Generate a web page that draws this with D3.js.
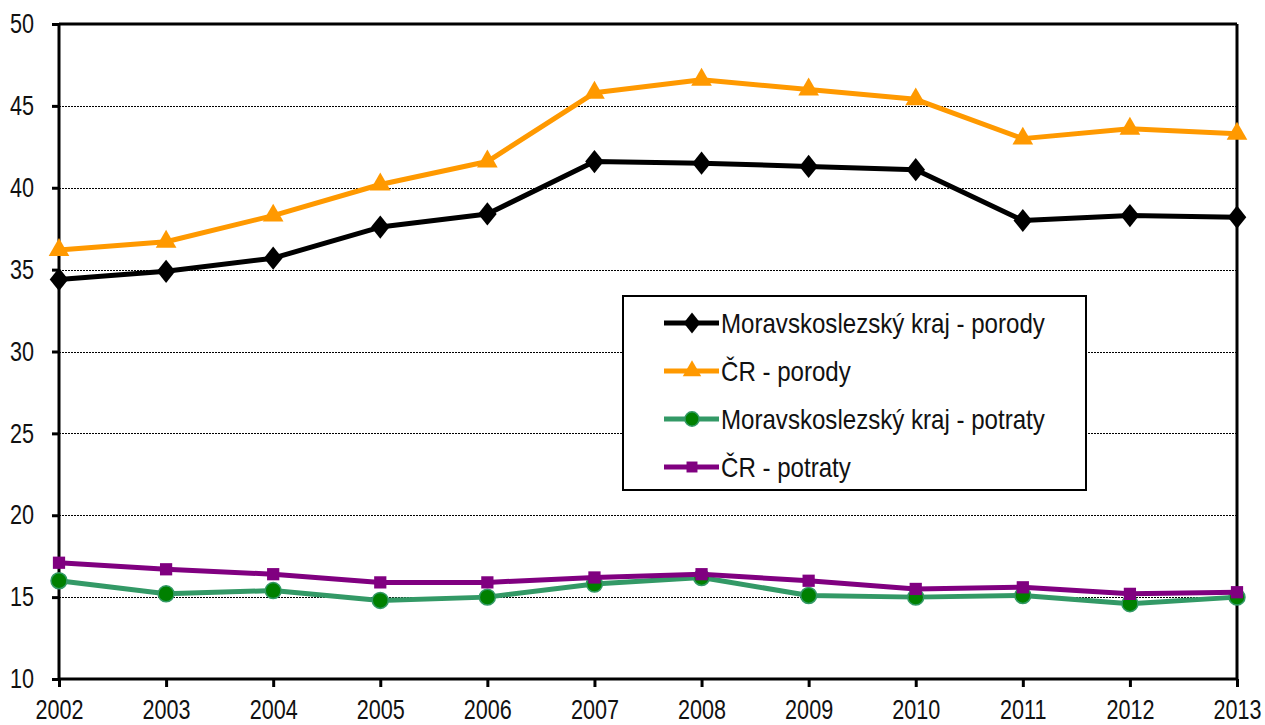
<!DOCTYPE html>
<html>
<head>
<meta charset="utf-8">
<script src="https://cdn.jsdelivr.net/npm/d3@7"></script>
<style>
  body { margin: 0; background: #fff; }
  svg text { font-family: "Liberation Sans", Arial, sans-serif; fill: #111; }
</style>
</head>
<body>
<svg id="chart" width="1265" height="725"></svg>
<script>
'use strict';

/* chart data */
const years = [2002, 2003, 2004, 2005, 2006, 2007, 2008, 2009, 2010, 2011, 2012, 2013];
const mskPorody = [34.4, 34.9, 35.7, 37.6, 38.4, 41.6, 41.5, 41.3, 41.1, 38.0, 38.3, 38.2];
const crPorody = [36.2, 36.7, 38.3, 40.2, 41.6, 45.8, 46.6, 46.0, 45.4, 43.0, 43.6, 43.3];
const mskPotraty = [16.0, 15.2, 15.4, 14.8, 15.0, 15.8, 16.2, 15.1, 15.0, 15.1, 14.6, 15.0];
const crPotraty = [17.1, 16.7, 16.4, 15.9, 15.9, 16.2, 16.4, 16.0, 15.5, 15.6, 15.2, 15.3];
const yTicks = [10, 15, 20, 25, 30, 35, 40, 45, 50];

const seriesNames = ['Moravskoslezský kraj - porody', 'ČR - porody', 'Moravskoslezský kraj - potraty', 'ČR - potraty'];
const seriesValues = [mskPorody, crPorody, mskPotraty, crPotraty];

/* styling per series; the diamond is a rotated, squeezed square */
const styles = [
  {line: '#000000', fill: '#000000', stroke: 'none', symbol: d3.symbolSquare, size: 270, shape: 'scale(0.8,1) rotate(45)'},
  {line: '#FF9900', fill: '#FF9900', stroke: 'none', symbol: d3.symbolTriangle, size: 185, shape: ''},
  {line: '#339966', fill: '#008000', stroke: '#339966', symbol: d3.symbolCircle, size: 200, shape: ''},
  {line: '#800080', fill: '#800080', stroke: 'none', symbol: d3.symbolSquare, size: 150, shape: ''}
];

const margin = {left: 59, right: 28, top: 24, bottom: 46};
const width = 1265, height = 725;

const svg = d3.select('#chart');

/* squeeze text horizontally to mimic a narrow font */
function narrow(sel, factor){
  sel.each(function(){
    const len = this.getComputedTextLength();
    d3.select(this)
      .attr('textLength', len * factor)
      .attr('lengthAdjust', 'spacingAndGlyphs');
  });
}

const x = d3.scalePoint()
  .domain(years)
  .range([margin.left, width - margin.right]);

const y = d3.scaleLinear()
  .domain([10, 50])
  .range([height - margin.bottom, margin.top]);

/* horizontal grid lines */
svg.append('g')
  .selectAll('line')
  .data(yTicks.filter(d => d > 10 && d < 50))
  .enter().append('line')
  .attr('x1', margin.left)
  .attr('x2', width - margin.right)
  .attr('y1', d => Math.round(y(d)) + 0.5)
  .attr('y2', d => Math.round(y(d)) + 0.5)
  .style('stroke', '#000')
  .style('stroke-width', 1)
  .style('stroke-dasharray', '2,1');

/* frame: top and right border */
svg.append('line')
  .attr('x1', margin.left).attr('x2', width - margin.right)
  .attr('y1', y(50)).attr('y2', y(50))
  .style('stroke', '#000').style('stroke-width', 3);
svg.append('line')
  .attr('x1', width - margin.right).attr('x2', width - margin.right)
  .attr('y1', y(50)).attr('y2', y(10))
  .style('stroke', '#000').style('stroke-width', 3);

/* axes */
const yAxis = svg.append('g')
  .attr('transform', `translate(${margin.left},0)`)
  .call(d3.axisLeft(y).tickValues(yTicks).tickSize(7).tickPadding(18));

const xAxis = svg.append('g')
  .attr('transform', `translate(0,${y(10)})`)
  .call(d3.axisBottom(x).tickFormat(d3.format('d')).tickSize(8).tickPadding(13));

[yAxis, xAxis].forEach(function(ax){
  ax.select('.domain').style('stroke', '#000').style('stroke-width', 3);
  ax.selectAll('.tick line').style('stroke', '#000').style('stroke-width', 3);
  ax.selectAll('.tick text')
    .style('font-size', '27px')
    .style('font-family', '"Liberation Sans", Arial, sans-serif')
    .style('fill', '#111')
    .call(narrow, 0.8);
});
xAxis.select('.domain').attr('d', `M${margin.left},0H${width - margin.right}`);
yAxis.select('.domain').attr('d', `M0,${y(10)}V${y(50)}`);

/* series lines and markers */
const line = d3.line()
  .x(d => x(d.year))
  .y(d => y(d.value));

seriesValues.forEach(function(vals, i){
  const pts = years.map((yr, j) => ({year: yr, value: vals[j]}));
  const st = styles[i];
  const g = svg.append('g').attr('class', 'series');
  g.append('path')
    .datum(pts)
    .attr('d', line)
    .style('fill', 'none')
    .style('stroke', st.line)
    .style('stroke-width', 5)
    .style('stroke-linejoin', 'round');
  g.selectAll('path.marker')
    .data(pts)
    .enter().append('path')
    .attr('class', 'marker')
    .attr('d', d3.symbol().type(st.symbol).size(st.size))
    .attr('transform', d => `translate(${x(d.year)},${y(d.value)}) ${st.shape}`)
    .style('fill', st.fill)
    .style('stroke', st.stroke)
    .style('stroke-width', 1.5);
});

/* legend */
const legend = svg.append('g').attr('transform', 'translate(623,296)');
legend.append('rect')
  .attr('width', 463).attr('height', 194)
  .style('fill', '#fff')
  .style('stroke', '#000')
  .style('stroke-width', 2);

seriesNames.forEach(function(name, i){
  const st = styles[i];
  const ly = 27 + i * 48;
  const row = legend.append('g').attr('transform', `translate(0,${ly})`);
  row.append('line')
    .attr('x1', 41).attr('x2', 96)
    .style('stroke', st.line)
    .style('stroke-width', 5);
  row.append('path')
    .attr('d', d3.symbol().type(st.symbol).size(st.size * 0.8))
    .attr('transform', `translate(69,0) ${st.shape}`)
    .style('fill', st.fill)
    .style('stroke', st.stroke)
    .style('stroke-width', 1.5);
  row.append('text')
    .attr('x', 98)
    .attr('y', 0)
    .attr('dy', '0.36em')
    .style('font-size', '28px')
    .text(name)
    .call(narrow, 0.86);
});
</script>
</body>
</html>
